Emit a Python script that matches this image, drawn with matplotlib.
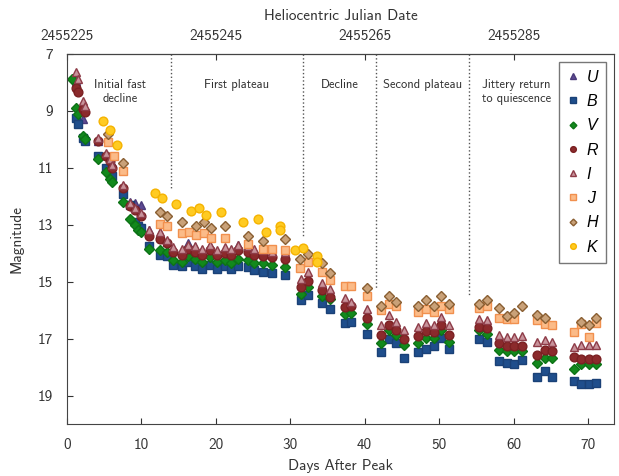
import matplotlib
matplotlib.use('Agg')
from matplotlib import pyplot as plt
import numpy as np

plt.rcParams['font.family'] = ['cmss10', 'DejaVu Sans']
plt.rcParams['axes.unicode_minus'] = False
plt.rcParams['mathtext.fontset'] = 'cm'

nan = np.nan

# optical epochs (days after peak) shared by U B V R I
opt_day = [0.7, 1.2, 1.5, 2.2, 2.4, 4.2, 5.3, 5.8, 6.0, 7.5, 8.5, 9.1, 9.5, 10.0,
           11.1, 12.5, 13.5, 14.2, 15.4, 16.3, 17.2, 18.1, 19.2, 20.2, 21.2, 22.1,
           23.0, 24.3, 25.2, 26.3, 27.5, 29.3, 31.4, 32.4, 34.3, 35.3, 37.3, 38.2,
           40.3, 42.2, 43.3, 44.2, 45.3, 47.2, 48.3, 49.3, 50.3, 51.3, 55.3, 56.4,
           58.1, 59.1, 60.1, 61.1, 63.1, 64.2, 65.1, 68.1, 69.1, 70.1, 71.1]
u_mag = [nan, 7.95, nan, 9.3, nan, 10.05, 10.55, nan, 10.85, 11.65, 12.2, 12.25, nan, 12.3,
         13.2, 13.3, 13.6, 13.85, 13.95, 13.65, 13.8, 13.9, 13.75, 13.95, 13.85, 13.9,
         13.7, 13.75, 13.9, 13.95, 14.0, nan, nan, nan, nan, nan, nan, nan,
         nan, nan, nan, nan, nan, nan, nan, nan, nan, nan, nan, nan,
         nan, nan, nan, nan, nan, nan, nan, nan, nan, nan, nan]
b_mag = [nan, 9.25, 9.45, 9.95, 10.05, 10.6, 11.0, 11.2, 11.3, 11.93, 12.3, 12.9, 13.05, 13.1,
         13.75, 14.05, 14.1, 14.4, 14.45, 14.3, 14.45, 14.55, 14.4, 14.55, 14.45, 14.55,
         14.45, 14.5, 14.6, 14.65, 14.7, 14.75, 15.66, 15.45, 15.74, 15.95, 16.44, 16.4,
         16.83, 17.47, 17.02, 17.14, 17.68, 17.47, 17.35, 17.26, 16.98, 17.37, 17.02, 17.12,
         17.8, 17.85, 17.9, 17.75, 18.34, 18.14, 18.34, 18.5, 18.6, 18.6, 18.55]
v_mag = [7.88, 8.9, 9.1, 9.9, 10.0, 10.7, 11.15, 11.4, 11.5, 12.2, 12.8, 13.0, 13.2, 13.25,
         13.85, 13.9, 13.95, 14.25, 14.3, 14.1, 14.2, 14.3, 14.15, 14.3, 14.25, 14.35,
         14.2, 14.25, 14.35, 14.35, 14.4, 14.5, 15.43, 15.19, 15.52, 15.6, 16.15, 16.09,
         16.48, 17.14, 16.69, 16.86, 17.23, 17.14, 16.98, 16.98, 16.69, 17.1, 16.71, 16.82,
         17.4, 17.45, 17.45, 17.42, 17.84, 17.68, 17.68, 18.07, 17.9, 17.9, 17.9]
r_mag = [nan, 8.2, 8.35, 8.95, 9.05, 10.05, 10.6, 10.75, 11.0, 11.72, 12.35, 12.5, nan, 12.7,
         13.4, 13.5, 13.65, 13.95, 14.05, 13.85, 13.95, 14.05, 13.9, 14.05, 14.0, 14.05,
         13.9, 13.95, 14.05, 14.1, 14.15, 14.2, 15.19, 14.96, 15.29, 15.54, 15.9, 15.85,
         16.27, 16.88, 16.51, 16.69, 17.0, 16.9, 16.74, 16.77, 16.51, 16.88, 16.59, 16.63,
         17.17, 17.25, 17.25, 17.25, 17.56, 17.4, 17.45, 17.66, 17.7, 17.7, 17.7]
i_mag = [nan, 7.65, 7.9, 8.65, 8.85, 9.95, 10.5, 10.7, 10.9, 11.6, 12.25, 12.4, nan, 12.6,
         13.2, 13.25, 13.55, 13.8, 13.85, 13.7, 13.75, 13.85, 13.7, 13.9, 13.8, 13.85,
         13.7, 13.75, 13.85, 13.9, 13.95, 13.95, 14.9, 14.65, 15.04, 15.25, 15.58, 15.7,
         15.95, 16.53, 16.18, 16.42, 16.7, 16.6, 16.44, 16.51, 16.24, 16.51, 16.3, 16.33,
         16.86, 16.93, 16.93, 16.9, 17.1, 17.05, 17.1, 17.28, 17.23, 17.23, 17.23]

# near-infrared
j_day = [5.5, 6.4, 7.5, 12.5, 13.5, 15.4, 16.4, 17.4, 18.4, 19.4, 21.3, 24.3, 26.3, 27.5,
         29.3, 31.3, 32.4, 34.3, 35.3, 37.3, 38.2, 40.3, 42.2, 43.3, 44.2, 47.2, 48.3,
         49.3, 50.3, 51.3, 55.3, 56.4, 58.1, 59.1, 60.1, 63.1, 64.2, 65.1, 68.1, 69.1,
         70.1, 71.1]
j_mag = [10.1, 10.6, 11.1, 12.98, 13.04, 13.3, 13.25, 13.36, 13.3, 13.47, 13.47, 13.68, 13.85, 13.85,
         13.88, 14.53, 14.32, 14.65, 14.93, 15.16, 15.16, 15.5, 16.0, 15.8, 15.86, 16.07, 15.95,
         16.07, 15.84, 15.95, 15.92, 15.84, 16.28, 16.3, 16.3, 16.36, 16.48, 16.53, 16.77, 16.5,
         16.94, 16.45]
h_day = [5.5, 7.5, 12.5, 13.5, 15.4, 17.4, 18.4, 19.4, 21.3, 24.3, 26.3, 29.3, 31.3, 32.4,
         34.3, 35.3, 40.3, 42.2, 43.3, 44.2, 47.2, 48.3, 49.3, 50.3, 51.3, 55.3, 56.4,
         58.1, 59.1, 60.1, 61.1, 63.1, 64.2, 69.1, 70.1, 71.1]
h_mag = [9.83, 10.82, 12.57, 12.7, 12.92, 13.04, 12.92, 13.12, 13.04, 13.41, 13.56, 13.5, 14.2, 14.03,
         14.35, 14.7, 15.23, 15.86, 15.5, 15.72, 15.84, 15.66, 15.86, 15.5, 15.78, 15.8, 15.66,
         15.93, 16.2, 16.09, 15.84, 16.16, 16.28, 16.42, 16.53, 16.28]
k_day = [4.8, 5.8, 6.75, 11.8, 12.8, 14.7, 16.7, 17.7, 18.75, 20.7, 23.7, 25.7, 26.8,
         28.6, 28.6, 30.7, 31.7, 33.6, 33.6]
k_mag = [9.37, 9.66, 10.2, 11.87, 12.07, 12.28, 12.51, 12.43, 12.65, 12.57, 12.92, 12.8, 13.27,
         13.05, 13.2, 13.9, 13.83, 14.1, 14.3]

# phase boundaries and labels
phase_x = [14, 31.7, 41.5, 54]
phase_end = [11.75, 13.45, 15.25, 15.45]
phase_lbl = ['Initial fast\ndecline', 'First plateau', 'Decline', 'Second plateau',
             'Jittery return\nto quiescence']
phase_lbl_x = [7.2, 22.8, 36.6, 47.8, 60.4]
phase_lbl_y = [8.35, 8.1, 8.1, 8.1, 8.35]

hjd_ticks = [2455225, 2455245, 2455265, 2455285]
hjd0 = 2455225

fig = plt.figure(figsize=(6.19, 4.76), dpi=100)
ax = fig.add_axes([0.108, 0.109, 0.884, 0.778])

series = [
    ('U', opt_day, u_mag, '^', '#5d4a92', '#4a3a7a', 6.3),
    ('B', opt_day, b_mag, 's', '#1f4e8c', '#1a4177', 5.8),
    ('V', opt_day, v_mag, 'D', '#12891c', '#0d7316', 5.3),
    ('R', opt_day, r_mag, 'o', '#8b2a2c', '#7a2022', 6.3),
    ('I', opt_day, i_mag, '^', '#c8939b', '#8e3c48', 6.3),
    ('J', j_day, j_mag, 's', '#fbbb88', '#f1904e', 5.8),
    ('H', h_day, h_mag, 'D', '#c9a178', '#8a5f32', 5.3),
    ('K', k_day, k_mag, 'o', '#ffcb22', '#f5b300', 6.3),
]
for name, d, m, mk, fc, ec, ms in series:
    ax.plot(d, m, linestyle='none', marker=mk, markersize=ms, markerfacecolor=fc,
            markeredgecolor=ec, markeredgewidth=1.0, label=name)

for x, yend in zip(phase_x, phase_end):
    ax.plot([x, x], [7, yend], linestyle=':', color='#555555', linewidth=1.0)
for x, y, t in zip(phase_lbl_x, phase_lbl_y, phase_lbl):
    ax.text(x, y, t, ha='center', va='center', fontsize=9, color='#333333')

ax.set_xlim(0, 73.5)
ax.set_ylim(20, 7)
ax.set_xticks([0, 10, 20, 30, 40, 50, 60, 70])
ax.set_yticks([7, 9, 11, 13, 15, 17, 19])
ax.tick_params(direction='in', labelsize=11, colors='#333333', length=4, pad=10)
ax.set_xlabel('Days After Peak', fontsize=11, color='#333333', labelpad=5)
ax.set_ylabel('Magnitude', fontsize=11, color='#333333', labelpad=10)
for s in ['top', 'bottom', 'left', 'right']:
    ax.spines[s].set_color('#444444')

top = ax.secondary_xaxis('top', functions=(lambda d: d + hjd0, lambda h: h - hjd0))
top.set_xticks(hjd_ticks, labels=[str(t) for t in hjd_ticks])
top.tick_params(direction='in', labelsize=11, colors='#333333', length=4, pad=8)
top.set_xlabel('Heliocentric Julian Date', fontsize=11, color='#333333', labelpad=6)

leg = ax.legend(loc='upper right', markerscale=0.65, handlelength=0.7,
                handletextpad=0.5, labelspacing=0.58, borderpad=0.5, fancybox=False,
                edgecolor='#777777', framealpha=1, borderaxespad=0.5,
                prop={'family': 'Liberation Sans', 'style': 'italic', 'size': 11.5})
leg.get_frame().set_linewidth(1.0)

plt.savefig('out.png', dpi=100)
